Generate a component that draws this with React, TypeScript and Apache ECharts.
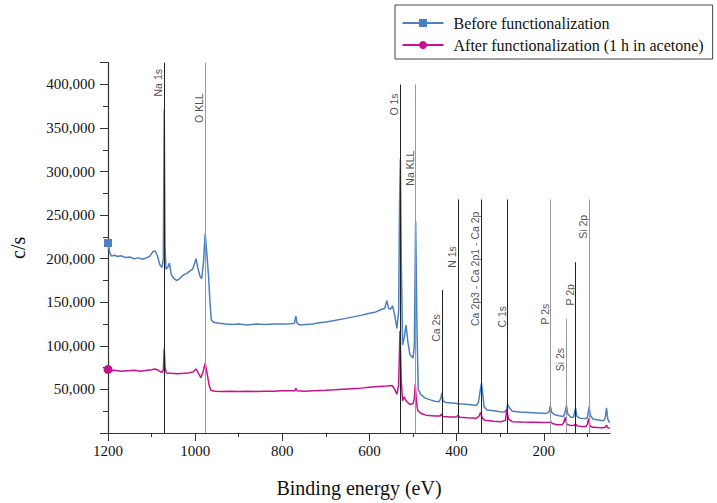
import React, { useEffect, useRef } from "react";
import * as echarts from "echarts";

// Survey XPS spectra: [binding energy (eV), counts per second]
const beforeSpectrum: [number, number][] = [
  [1200, 218000], [1196, 207000], [1192, 203000], [1185, 204000], [1178, 202500],
  [1170, 203500], [1160, 201500], [1150, 202000], [1140, 200000], [1130, 201000],
  [1120, 199500], [1112, 201000], [1104, 203000], [1097, 208000], [1092, 209000],
  [1087, 204000], [1081, 193000], [1076, 190000], [1073, 200000], [1071, 371000],
  [1069, 215000], [1067, 188000], [1063, 190000], [1059, 195000], [1055, 182000],
  [1050, 178000], [1043, 175000], [1036, 177000], [1028, 181000], [1020, 183000],
  [1012, 186000], [1006, 188000], [1001, 195000], [998, 200000], [994, 190000],
  [989, 180000], [985, 177000], [981, 195000], [977, 229000], [973, 205000],
  [969, 178000], [966, 150000], [963, 130000], [958, 127000], [945, 126000],
  [930, 125000], [915, 124500], [900, 125000], [880, 124000], [860, 125000],
  [840, 124500], [820, 125000], [800, 125000], [780, 125500], [772, 126000],
  [769, 134000], [766, 126000], [760, 124000], [745, 124500], [730, 125000],
  [715, 126500], [700, 127500], [680, 129000], [660, 131000], [640, 133000],
  [620, 135000], [600, 137500], [585, 139000], [572, 142000], [565, 143000],
  [560, 152000], [556, 143000], [552, 142000], [547, 146000], [542, 135000],
  [537, 120000], [533, 140000], [531, 260000], [529, 315000], [527, 200000],
  [524, 101000], [520, 110000], [516, 124000], [512, 105000], [507, 90000],
  [500, 86000], [497, 100000], [494, 243000], [491, 120000], [488, 50000],
  [482, 44000], [472, 40000], [460, 38000], [450, 36500], [440, 36000],
  [436, 40000], [434, 46000], [431, 37000], [425, 35000], [410, 34500],
  [395, 33500], [380, 33000], [366, 32500], [355, 31500], [350, 35000],
  [346, 48000], [343, 57000], [340, 45000], [337, 30000], [330, 26500],
  [315, 25500], [300, 24500], [290, 24000], [285, 27000], [283, 33000],
  [279, 29000], [272, 25000], [255, 24000], [235, 23500], [215, 23000],
  [195, 22500], [188, 24000], [185, 31000], [182, 24000], [175, 21000],
  [165, 19800], [155, 19000], [151, 24000], [148, 31800], [145, 22000],
  [138, 18000], [132, 18000], [127, 29000], [124, 19000], [117, 17000],
  [105, 16500], [100, 17500], [96, 30000], [93, 20000], [87, 16000],
  [75, 15000], [63, 14000], [59, 17000], [56, 29000], [53, 16000],
  [50, 12500], [48, 13000],
];

const afterSpectrum: [number, number][] = [
  [1200, 73000], [1195, 71500], [1185, 72000], [1170, 71000], [1155, 71500],
  [1140, 72000], [1125, 71000], [1110, 72000], [1100, 72500], [1092, 73500],
  [1085, 72000], [1077, 69500], [1073, 72000], [1071, 97000], [1069, 75000],
  [1066, 69000], [1055, 68500], [1040, 68000], [1027, 68500], [1015, 69000],
  [1005, 70000], [998, 73500], [993, 69000], [987, 63500], [982, 70000],
  [977, 80000], [973, 70000], [968, 55000], [964, 49000], [955, 48000],
  [940, 47500], [920, 48000], [900, 47500], [880, 48000], [860, 47500],
  [840, 48000], [820, 48000], [800, 48500], [780, 48500], [771, 48500],
  [769, 51500], [766, 48500], [750, 48000], [730, 48500], [700, 49000],
  [680, 49500], [650, 50500], [620, 51500], [600, 52500], [580, 53500],
  [560, 54000], [548, 54500], [542, 50000], [537, 44500], [533, 55000],
  [530, 117000], [527, 60000], [524, 37000], [520, 41500], [516, 37000],
  [508, 33000], [500, 33500], [497, 40000], [495, 56000], [492, 35000],
  [489, 25500], [480, 22000], [470, 20500], [450, 19500], [438, 19500],
  [435, 21500], [431, 19000], [415, 18500], [400, 18500], [397, 20500],
  [393, 18000], [375, 17500], [355, 17000], [349, 19000], [345, 23500],
  [341, 17000], [335, 14500], [315, 13500], [298, 13000], [288, 14500],
  [285, 27000], [281, 16000], [272, 13000], [250, 12500], [225, 12300],
  [200, 12000], [186, 12300], [184, 13000], [180, 11000], [170, 9500],
  [158, 9500], [154, 12000], [151, 17800], [147, 10000], [138, 8500],
  [130, 9000], [127, 10300], [123, 8000], [115, 7600], [103, 7500],
  [100, 10000], [97, 16700], [94, 8000], [88, 6500], [75, 6200],
  [65, 6000], [59, 6500], [56, 9000], [53, 6000], [48, 5300],
];

// Peak assignments: name, energy, top of marker line, label centre (c/s)
const peakNames = ["Na 1s", "O KLL", "O 1s", "Na KLL", "Ca 2s", "N 1s", "Ca 2p3 - Ca 2p1 - Ca 2p", "C 1s", "P 2s", "Si 2s", "P 2p", "Si 2p"];
const peakEnergies = [1071, 977, 529, 494, 434, 396, 343, 283, 184, 149, 127, 96];
const peakLineTops = [425000, 425000, 400000, 400000, 164000, 268000, 268000, 268000, 268000, 131000, 196000, 268000];
const peakLabelAt = [402000, 373000, 377000, 304000, 120500, 202000, 188500, 133500, 136400, 84300, 158500, 236600];

const xMajorTicks = [1200, 1000, 800, 600, 400, 200];
const xMinorTicks = [1100, 900, 700, 500, 300, 100];

const seriesNames = ["Before functionalization", "After functionalization (1 h in acetone)"];

const greyPeaks = new Set(["O KLL", "Na KLL", "P 2s", "Si 2s", "Si 2p"]);

export default function App() {
  const ref = useRef<HTMLDivElement>(null);
  useEffect(() => {
    if (!ref.current) return;
    const chart = echarts.init(ref.current, null, { renderer: "svg" });
    const serif = "'Liberation Serif', 'Times New Roman', serif";
    const axisColor = "#333";
    const xCommon = {
      type: "value" as const,
      inverse: true,
      min: 48,
      max: 1200,
      splitLine: { show: false },
      position: "bottom" as const,
    };
    chart.setOption({
      animation: false,
      backgroundColor: "#ffffff",
      grid: { left: 104, right: 107, top: 62.7, bottom: 66, containLabel: false },
      legend: {
        data: seriesNames,
        orient: "vertical",
        left: 395,
        top: 5,
        padding: [9, 9, 5, 6.5],
        itemGap: 4,
        itemWidth: 41,
        itemHeight: 10,
        borderColor: "#444",
        borderWidth: 1,
        backgroundColor: "#fff",
        textStyle: {
          fontFamily: serif,
          fontSize: 16,
          color: "#111",
          lineHeight: 18,
          padding: [0, 0, 0, 5],
        },
      },
      xAxis: [
        {
          ...xCommon,
          name: "Binding energy (eV)",
          nameLocation: "middle",
          nameGap: 45,
          nameTextStyle: { fontFamily: serif, fontSize: 20, color: "#111" },
          axisLine: { show: true, lineStyle: { color: axisColor, width: 1.2 } },
          axisTick: { show: true, length: 8, customValues: xMajorTicks, lineStyle: { color: axisColor } },
          axisLabel: {
            customValues: xMajorTicks,
            formatter: (v: number) => String(v),
            fontFamily: serif,
            fontSize: 15,
            color: "#111",
            margin: 10,
          },
        },
        {
          ...xCommon,
          axisLine: { show: false },
          axisTick: { show: true, length: 4, customValues: xMinorTicks, lineStyle: { color: axisColor } },
          axisLabel: { show: false, customValues: xMinorTicks },
        },
      ],
      yAxis: {
        type: "value",
        min: 0,
        max: 425000,
        interval: 50000,
        name: "c/s",
        nameLocation: "middle",
        nameGap: 80,
        nameTextStyle: { fontFamily: serif, fontSize: 20, color: "#111" },
        splitLine: { show: false },
        axisLine: { show: true, lineStyle: { color: axisColor, width: 1.2 } },
        axisTick: { show: true, length: 8, lineStyle: { color: axisColor } },
        minorTick: { show: true, splitNumber: 2, length: 5, lineStyle: { color: axisColor } },
        axisLabel: {
          fontFamily: serif,
          fontSize: 15,
          color: "#111",
          margin: 13,
          formatter: (v: number) =>
            v === 0 || v % 50000 !== 0 ? "" : v.toLocaleString("en-US"),
        },
      },
      series: [
        {
          name: seriesNames[0],
          type: "line",
          xAxisIndex: 0,
          data: beforeSpectrum,
          symbol: "rect",
          showAllSymbol: true,
          symbolSize: (_v: any, p: any) => (p.dataIndex === 0 ? 8 : 0),
          itemStyle: { color: "#4b7fc0" },
          lineStyle: { color: "#4b7fc0", width: 1.5 },
          z: 3,
        },
        {
          name: seriesNames[1],
          type: "line",
          xAxisIndex: 0,
          data: afterSpectrum,
          symbol: "circle",
          showAllSymbol: true,
          symbolSize: (_v: any, p: any) => (p.dataIndex === 0 ? 9 : 0),
          itemStyle: { color: "#c8118f" },
          lineStyle: { color: "#c8118f", width: 1.5 },
          z: 3,
        },
        {
          name: "peaks",
          type: "scatter",
          xAxisIndex: 0,
          silent: true,
          symbolSize: 0,
          z: 4,
          data: peakNames.map((n, i) => ({ name: n, value: [peakEnergies[i], peakLabelAt[i]] })),
          label: {
            show: true,
            formatter: "{b}",
            position: "inside",
            rotate: 90,
            offset: [0, -6],
            fontFamily: "'Liberation Sans', Arial, sans-serif",
            fontSize: 10.5,
            color: "#222",
          },
          markLine: {
            silent: true,
            symbol: ["none", "none"],
            label: { show: false },
            data: peakNames.map((n, i) => [
              {
                coord: [peakEnergies[i], 0],
                lineStyle: { color: greyPeaks.has(n) ? "#9a9a9a" : "#222", width: 1, type: "solid" },
              },
              { coord: [peakEnergies[i], peakLineTops[i]] },
            ]),
          },
        },
      ],
    });
    return () => chart.dispose();
  }, []);
  return (
    <div
      ref={ref}
      style={{ position: "absolute", left: 0, top: 0, width: 717, height: 503 }}
    />
  );
}
